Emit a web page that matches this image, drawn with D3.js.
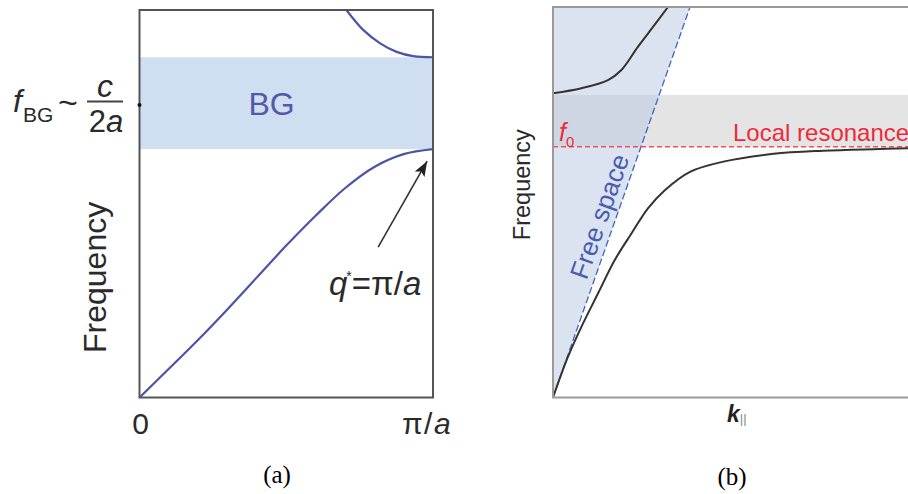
<!DOCTYPE html>
<html><head><meta charset="utf-8">
<script src="https://cdn.jsdelivr.net/npm/d3@7"></script>
<style>body{margin:0;background:#fff}svg{display:block}</style>
</head><body><svg id="c" width="908" height="494"></svg>
<script>
// ---------- Panel (a): Bragg band gap ----------
const aQ = [0, 0.1, 0.2, 0.3, 0.4, 0.5, 0.6, 0.7, 0.8, 0.9, 1.0];
const aLower = [0, 0.074, 0.149, 0.228, 0.31, 0.392, 0.469, 0.54, 0.595, 0.628, 0.641];
const aUpperQ = [0.705, 0.763, 0.82, 0.876, 0.933, 1.0];
const aUpper = [1.0, 0.948, 0.914, 0.892, 0.881, 0.878];
const aGap = [0.641, 0.878];
const aFbg = 0.755;
const aTickLabels = ["0", "π/a"];
const aArrow = {from: [0.813, 0.388], to: [0.98, 0.61]};

// ---------- Panel (b): local resonance ----------
const bK = [0, 0.042, 0.080, 0.127, 0.174, 0.221, 0.268, 0.315, 0.386, 0.480, 0.621, 0.761, 0.902, 1.0];
const bLower = [0, 0.104, 0.181, 0.267, 0.352, 0.420, 0.485, 0.531, 0.578, 0.604, 0.624, 0.632, 0.636, 0.638];
const bUpperK = [0, 0.0797, 0.155, 0.192, 0.239, 0.286, 0.324];
const bUpper = [0.779, 0.792, 0.813, 0.838, 0.898, 0.954, 1.0];
const bLightK = [0, 0.386];
const bLightF = [0, 1];
const bF0 = 0.642;
const bGap = [0.642, 0.775];

const svg = d3.select("#c");
const sans = "'Liberation Sans', Arial, sans-serif";
const serif = "'Liberation Serif', 'Times New Roman', serif";

// ======= Panel (a) =======
const xa = d3.scaleLinear([0, 1], [139.5, 433]);
const ya = d3.scaleLinear([0, 1], [397.5, 10]);
svg.append("clipPath").attr("id", "clipA").append("rect")
  .attr("x", xa(0)).attr("y", ya(1)).attr("width", xa(1) - xa(0)).attr("height", ya(0) - ya(1));
const gA = svg.append("g");
gA.append("rect").attr("x", xa(0)).attr("y", ya(aGap[1]))
  .attr("width", xa(1) - xa(0)).attr("height", ya(aGap[0]) - ya(aGap[1]))
  .attr("fill", "#cfdff1");
gA.append("text").attr("x", xa(0.45)).attr("y", ya((aGap[0] + aGap[1]) / 2) + 12)
  .attr("text-anchor", "middle").attr("font-family", sans).attr("font-size", 32)
  .attr("fill", "#5558a8").text("BG");
const lineA = d3.line().x(d => xa(d[0])).y(d => ya(d[1])).curve(d3.curveCatmullRom.alpha(0.5));
gA.append("path").attr("clip-path", "url(#clipA)")
  .attr("d", lineA(aQ.map((q, i) => [q, aLower[i]])))
  .attr("fill", "none").attr("stroke", "#4b55a6").attr("stroke-width", 2.2);
gA.append("path").attr("clip-path", "url(#clipA)")
  .attr("d", lineA(aUpperQ.map((q, i) => [q, aUpper[i]])))
  .attr("fill", "none").attr("stroke", "#4b55a6").attr("stroke-width", 2.2);
gA.append("rect").attr("x", xa(0)).attr("y", ya(1))
  .attr("width", xa(1) - xa(0)).attr("height", ya(0) - ya(1))
  .attr("fill", "none").attr("stroke", "#555").attr("stroke-width", 2);
gA.append("circle").attr("cx", xa(0)).attr("cy", ya(aFbg)).attr("r", 2).attr("fill", "#111");

// arrow
const defs = svg.append("defs");
defs.append("marker").attr("id", "arr").attr("viewBox", "0 0 15 11")
  .attr("refX", 15).attr("refY", 5.5).attr("markerWidth", 15).attr("markerHeight", 11)
  .attr("markerUnits", "userSpaceOnUse").attr("orient", "auto")
  .append("path").attr("d", "M0,0 L15,5.5 L0,11 L3,5.5 Z").attr("fill", "#222");
gA.append("line")
  .attr("x1", xa(aArrow.from[0])).attr("y1", ya(aArrow.from[1]))
  .attr("x2", xa(aArrow.to[0])).attr("y2", ya(aArrow.to[1]))
  .attr("stroke", "#333").attr("stroke-width", 1.6).attr("marker-end", "url(#arr)");

// tick labels
const tA = gA.append("g").attr("font-family", sans).attr("font-size", 30).attr("fill", "#2a2a2a");
tA.append("text").attr("x", xa(0) + 1).attr("y", 434).attr("text-anchor", "middle").text(aTickLabels[0]);
const t1 = tA.append("text").attr("x", xa(1) - 6).attr("y", 434).attr("text-anchor", "middle")
  .attr("letter-spacing", 1.5);
t1.append("tspan").text(aTickLabels[1].slice(0, 2));
t1.append("tspan").attr("font-style", "italic").text(aTickLabels[1].slice(2));

// q* annotation
const qt = gA.append("text").attr("x", 329).attr("y", 295).attr("font-family", sans)
  .attr("font-size", 33).attr("fill", "#2a2a2a");
qt.append("tspan").attr("font-style", "italic").text("q");
qt.append("tspan").attr("font-size", 14).attr("dy", -14).attr("dx", -1).text("*");
qt.append("tspan").attr("dy", 14).text("=π/");
qt.append("tspan").attr("font-style", "italic").text("a");

// y label a
gA.append("text").attr("transform", `translate(106,${ya(0.31)}) rotate(-90)`)
  .attr("text-anchor", "middle").attr("font-family", sans).attr("font-size", 32)
  .attr("fill", "#2a2a2a").text("Frequency");

// f_BG ~ c/2a
const fl = gA.append("g").attr("font-family", sans).attr("fill", "#2a2a2a");
fl.append("text").attr("x", 13).attr("y", 112).attr("font-size", 32).attr("font-style", "italic").text("f");
fl.append("text").attr("x", 23).attr("y", 122).attr("font-size", 21).text("BG");
fl.append("text").attr("x", 58).attr("y", 114).attr("font-size", 34).text("~");
fl.append("text").attr("x", 105).attr("y", 97).attr("text-anchor", "middle").attr("font-size", 32).attr("font-style", "italic").text("c");
fl.append("line").attr("x1", 87).attr("x2", 123).attr("y1", 101.5).attr("y2", 101.5).attr("stroke", "#444").attr("stroke-width", 2);
const den = fl.append("text").attr("x", 106).attr("y", 132).attr("text-anchor", "middle").attr("font-size", 31);
den.append("tspan").text("2");
den.append("tspan").attr("font-style", "italic").text("a");

svg.append("text").attr("x", 277).attr("y", 483).attr("text-anchor", "middle")
  .attr("font-family", serif).attr("font-size", 25).attr("fill", "#000").text("(a)");

// ======= Panel (b) =======
const xb = d3.scaleLinear([0, 1], [553, 908]);
const yb = d3.scaleLinear([0, 1], [397.5, 7]);
svg.append("clipPath").attr("id", "clipB").append("rect")
  .attr("x", xb(0)).attr("y", yb(1)).attr("width", xb(1) - xb(0) + 2).attr("height", yb(0) - yb(1));
const gB = svg.append("g");
gB.append("rect").attr("x", xb(0)).attr("y", yb(bGap[1]))
  .attr("width", xb(1) - xb(0)).attr("height", yb(bGap[0]) - yb(bGap[1]))
  .attr("fill", "#e4e4e4");
// free-space cone
const cone = [[0, 0], [bLightK[1], bLightF[1]], [0, 1]];
gB.append("path").attr("d", d3.line().x(d => xb(d[0])).y(d => yb(d[1]))(cone) + "Z")
  .attr("fill", "rgb(183,199,225)").attr("fill-opacity", 0.5);
gB.append("line").attr("x1", xb(bLightK[0])).attr("y1", yb(bLightF[0]))
  .attr("x2", xb(bLightK[1])).attr("y2", yb(bLightF[1]))
  .attr("stroke", "#3e66c4").attr("stroke-width", 1.3).attr("stroke-dasharray", "7,3");
// f0 line
gB.append("line").attr("x1", xb(0)).attr("x2", xb(1)).attr("y1", yb(bF0)).attr("y2", yb(bF0))
  .attr("stroke", "#f2505c").attr("stroke-width", 1.5).attr("stroke-dasharray", "5,3");
const lineB = d3.line().x(d => xb(d[0])).y(d => yb(d[1])).curve(d3.curveCatmullRom.alpha(0.5));
gB.append("path").attr("clip-path", "url(#clipB)")
  .attr("d", lineB(bK.map((k, i) => [k, bLower[i]])))
  .attr("fill", "none").attr("stroke", "#333").attr("stroke-width", 2);
gB.append("path").attr("clip-path", "url(#clipB)")
  .attr("d", lineB(bUpperK.map((k, i) => [k, bUpper[i]])))
  .attr("fill", "none").attr("stroke", "#333").attr("stroke-width", 2);
// frame (left, top, bottom)
gB.append("path")
  .attr("d", `M${xb(1) + 2},${yb(1)} L${xb(0)},${yb(1)} L${xb(0)},${yb(0)} L${xb(1) + 2},${yb(0)}`)
  .attr("fill", "none").attr("stroke", "#9a9a9a").attr("stroke-width", 2);

// labels
const f0 = gB.append("text").attr("x", 559).attr("y", 141).attr("font-family", sans).attr("fill", "#ee2a3a");
f0.append("tspan").attr("font-size", 25).attr("font-style", "italic").text("f");
f0.append("tspan").attr("font-size", 15).attr("dy", 6).text("0");
gB.append("text").attr("x", 733).attr("y", 141).attr("font-family", sans).attr("font-size", 24)
  .attr("fill", "#ee2a3a").text("Local resonance");

// Free space rotated label
const ang = Math.atan2(yb(1) - yb(0), xb(bLightK[1]) - xb(0));
const tPos = 0.45;
const px = xb(bLightK[1] * tPos), py = yb(tPos);
const nx = Math.sin(ang), ny = -Math.cos(ang); // normal to left
const off = 7;
gB.append("text")
  .attr("transform", `translate(${px + nx * off},${py + ny * off}) rotate(${ang * 180 / Math.PI})`)
  .attr("text-anchor", "middle").attr("font-family", sans).attr("font-size", 26)
  .attr("fill", "#4a5cb0").text("Free space");

gB.append("text").attr("transform", `translate(530,${yb(0.545)}) rotate(-90)`)
  .attr("text-anchor", "middle").attr("font-family", sans).attr("font-size", 23.5)
  .attr("fill", "#2a2a2a").text("Frequency");

const kl = gB.append("text").attr("x", 727).attr("y", 422).attr("font-family", sans);
kl.append("tspan").attr("font-size", 23).attr("font-weight", "bold").attr("font-style", "italic").attr("fill", "#222").text("k");
kl.append("tspan").attr("font-size", 13).attr("dy", 1).attr("fill", "#888").text("||");

svg.append("text").attr("x", 732).attr("y", 485).attr("text-anchor", "middle")
  .attr("font-family", serif).attr("font-size", 25).attr("fill", "#000").text("(b)");
</script></body></html>
